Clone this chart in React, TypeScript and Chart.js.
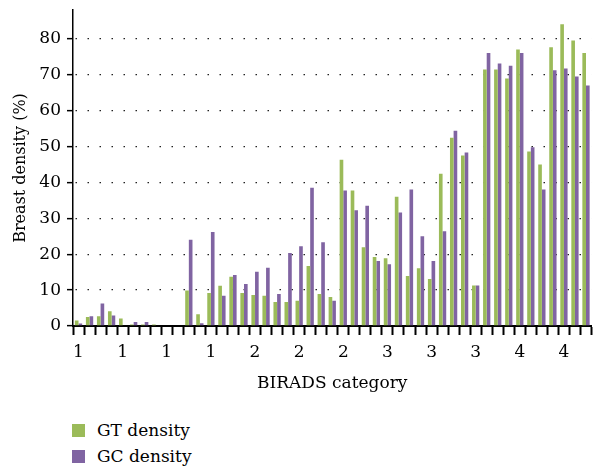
import React, { useEffect, useRef } from "react";
import { Chart, registerables } from "chart.js";

Chart.register(...registerables);

const categories = [
  "1", "1", "1", "1", "1", "1", "1", "1", "1", "1", "1", "1", "1", "1", "1",
  "2", "2", "2", "2", "2", "2", "2", "2", "2", "2", "2", "2",
  "3", "3", "3", "3", "3", "3", "3", "3", "3", "3", "3", "3",
  "4", "4", "4", "4", "4", "4", "4", "4",
];

const gtDensity = [
  1.5, 2.5, 2.7, 4.1, 2.1, 0.4, 0.4, 0.4, 0, 0,
  9.9, 3.3, 9.2, 11.2, 13.7, 9.2, 8.6, 8.4, 6.7, 6.7,
  7.0, 16.7, 8.9, 8.1, 46.3, 37.7, 21.9, 19.2, 18.9, 36.0,
  13.9, 16.1, 13.1, 42.4, 52.4, 47.5, 11.3, 71.4, 71.4, 68.9,
  77.0, 48.6, 45.0, 77.6, 84.0, 79.5, 76.0,
];

const gcDensity = [
  0.7, 2.7, 6.3, 2.9, 0, 1.1, 1.1, 0, 0, 0,
  24.0, 0.8, 26.2, 8.4, 14.2, 11.7, 15.1, 16.2, 8.9, 20.3,
  22.2, 38.5, 23.3, 7.0, 37.7, 32.2, 33.5, 18.1, 17.2, 31.6,
  38.0, 25.0, 18.1, 26.4, 54.4, 48.3, 11.3, 76.0, 73.1, 72.5,
  76.0, 49.8, 38.0, 71.2, 71.7, 69.5, 67.0,
];

const yTickValues = [0, 10, 20, 30, 40, 50, 60, 70, 80];

const seriesNames = ["GT density", "GC density"];
const seriesColors = ["#9BBB59", "#8064A2"];

const FONT = "'DejaVu Serif', 'Liberation Serif', serif";

export default function App() {
  const canvasRef = useRef<HTMLCanvasElement | null>(null);

  useEffect(() => {
    const canvas = canvasRef.current;
    if (!canvas) return;
    const chart = new Chart(canvas, {
      type: "bar",
      data: {
        labels: categories,
        datasets: [
          {
            label: seriesNames[0],
            data: gtDensity,
            backgroundColor: seriesColors[0],
            borderWidth: 0,
            barPercentage: 1,
            categoryPercentage: 0.66,
          },
          {
            label: seriesNames[1],
            data: gcDensity,
            backgroundColor: seriesColors[1],
            borderWidth: 0,
            barPercentage: 1,
            categoryPercentage: 0.66,
          },
        ],
      },
      options: {
        responsive: false,
        animation: false,
        devicePixelRatio: 1,
        layout: { padding: { top: 10, left: 0, right: 0, bottom: 0 } },
        plugins: {
          legend: { display: false },
          tooltip: { enabled: false },
        },
        scales: {
          x: {
            type: "category",
            offset: true,
            grid: {
              display: true,
              offset: true,
              drawOnChartArea: false,
              drawTicks: true,
              tickLength: 9,
              tickWidth: 2,
              tickColor: "#000",
            },
            border: { display: true, color: "#000", width: 2 },
            ticks: {
              autoSkip: false,
              maxRotation: 0,
              minRotation: 0,
              padding: 7,
              color: "#000",
              font: { family: FONT, size: 17 },
              callback: (_v: any, i: number) => (i % 4 === 0 ? categories[i] : ""),
            },
            title: {
              display: true,
              text: "BIRADS category",
              color: "#000",
              font: { family: FONT, size: 17 },
              padding: { top: 0, bottom: 6 },
            },
            afterFit: (scale: any) => {
              scale.height = 74;
            },
          },
          y: {
            min: 0,
            max: 88,
            ticks: {
              stepSize: 10,
              padding: 6,
              color: "#000",
              font: { family: FONT, size: 17 },
            },
            afterBuildTicks: (scale: any) => {
              scale.ticks = yTickValues.map((v) => ({ value: v }));
            },
            grid: {
              display: true,
              color: "#222",
              lineWidth: 1.3,
              drawOnChartArea: true,
              drawTicks: true,
              tickLength: 6,
              tickWidth: 1.5,
              tickColor: "#000",
              tickBorderDash: [],
            },
            border: {
              display: true,
              color: "#000",
              width: 1.5,
              dash: [1.5, 10.5],
              dashOffset: -2,
            },
            title: {
              display: true,
              text: "Breast density (%)",
              color: "#000",
              font: { family: FONT, size: 16 },
              padding: { top: 11, bottom: 0 },
            },
            afterFit: (scale: any) => {
              scale.width = 73;
              scale.paddingTop = 0;
              scale.paddingBottom = 0;
            },
          },
        },
      },
    });
    return () => chart.destroy();
  }, []);

  const legendItem = (i: number, top: number) => (
    <div
      key={i}
      style={{
        position: "absolute",
        left: 72,
        top,
        height: 20,
        display: "flex",
        alignItems: "center",
      }}
    >
      <span
        style={{
          display: "inline-block",
          width: 13,
          height: 13,
          background: seriesColors[i],
        }}
      />
      <span
        style={{
          marginLeft: 12,
          fontFamily: FONT,
          fontSize: 17,
          color: "#000",
          lineHeight: "20px",
        }}
      >
        {seriesNames[i]}
      </span>
    </div>
  );

  return (
    <div
      style={{
        position: "fixed",
        left: 0,
        top: 0,
        width: 593,
        height: 467,
        background: "#fff",
        overflow: "hidden",
      }}
    >
      <canvas ref={canvasRef} width={593} height={400} style={{ display: "block" }} />
      {legendItem(0, 420)}
      {legendItem(1, 446)}
    </div>
  );
}
